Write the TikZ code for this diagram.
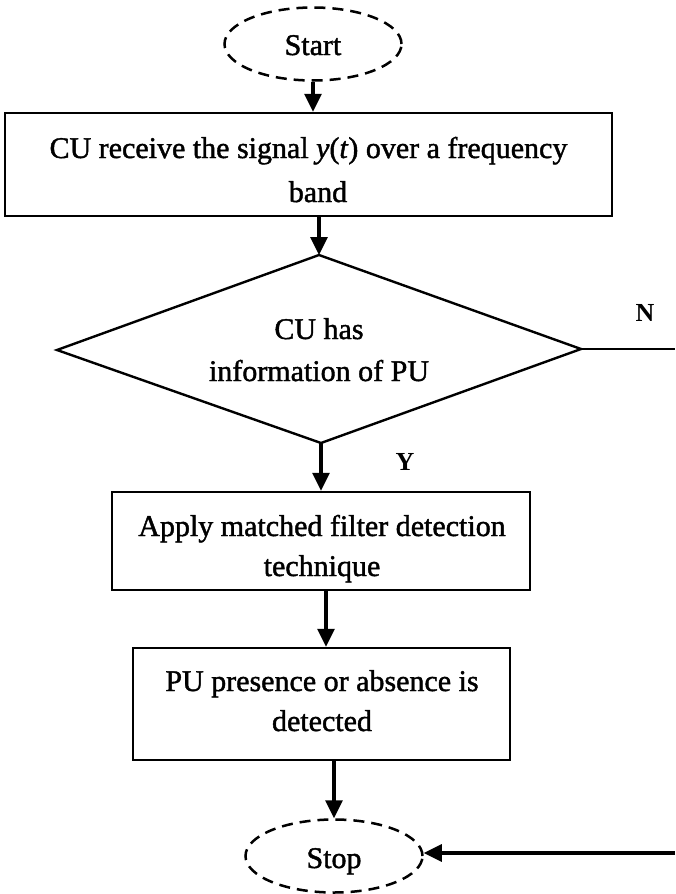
\documentclass[tikz,border=0pt]{standalone}
\usepackage{fontspec}
\setmainfont{Liberation Serif}[UprightFeatures={FakeBold=1.4},ItalicFeatures={FakeBold=1.4}]
\usetikzlibrary{arrows.meta,shapes.geometric}
\begin{document}
\begin{tikzpicture}[x=1pt,y=-1pt,
  every node/.style={font=\fontsize{30}{36}\selectfont},
  terminal/.style={ellipse,draw,dash pattern=on 11pt off 7pt,line width=2.5pt,
    inner sep=0pt,minimum width=177pt,minimum height=73pt},
  procbox/.style={rectangle,draw,line width=2.4pt,inner sep=0pt},
  txt/.style={anchor=base,inner sep=0pt},
  flow/.style={line width=3.2pt,-{Triangle[length=18pt,width=17pt]}},
  branch/.style={font=\fontsize{26}{30}\selectfont\bfseries}]
\useasboundingbox (0,0) rectangle (675,894);

% terminals
\node[terminal] (start) at (313,44) {};
\node[txt] (startT) at (313,55) {Start};
\node[terminal] (stop) at (334,856) {};
\node[txt] (stopT) at (334,868) {Stop};

% receive step
\node[procbox,minimum width=607pt,minimum height=103pt] (recv) at (308.5,164.5) {};
\node[txt] (recvA) at (308.5,158) {CU receive the signal \textit{y}(\textit{t}) over a frequency};
\node[txt] (recvB) at (318,202) {band};

% decision
\coordinate (dN) at (319,255);
\coordinate (dS) at (321,443);
\coordinate (dW) at (57,350);
\coordinate (dE) at (581,349);
\draw[line width=2.4pt,line join=miter] (dN) -- (dE) -- (dS) -- (dW) -- cycle;
\node[txt] (infoA) at (319,339) {CU has};
\node[txt] (infoB) at (319,381) {information of PU};

% matched filter step
\node[procbox,minimum width=418pt,minimum height=98pt] (mf) at (321,541) {};
\node[txt] (mfA) at (322,536) {Apply matched filter detection};
\node[txt] (mfB) at (322,576) {technique};

% detection step
\node[procbox,minimum width=377pt,minimum height=112pt] (det) at (321.5,704) {};
\node[txt] (detA) at (322,691) {PU presence or absence is};
\node[txt] (detB) at (322,731) {detected};

% loose ends at the right border
\coordinate (nEnd) at (675,349);
\coordinate (nBack) at (675,853);

% connectors
\draw[flow] (start.south) -- (start.south |- recv.north);
\draw[flow] (dN |- recv.south) -- (dN);
\draw[flow] (dS) -- (dS |- mf.north);
\draw[flow] ([xshift=5pt]mf.south) -- ([xshift=5pt]mf.south |- det.north);
\draw[flow] (stop.north |- det.south) -- (stop.north);
\draw[line width=2.4pt] (dE) -- (nEnd);
\draw[flow] (nBack) -- (nBack -| stop.east);

% branch labels
\node[branch] (lblN) at (645,313) {N};
\node[branch] (lblY) at (405,462) {Y};
\end{tikzpicture}
\end{document}
